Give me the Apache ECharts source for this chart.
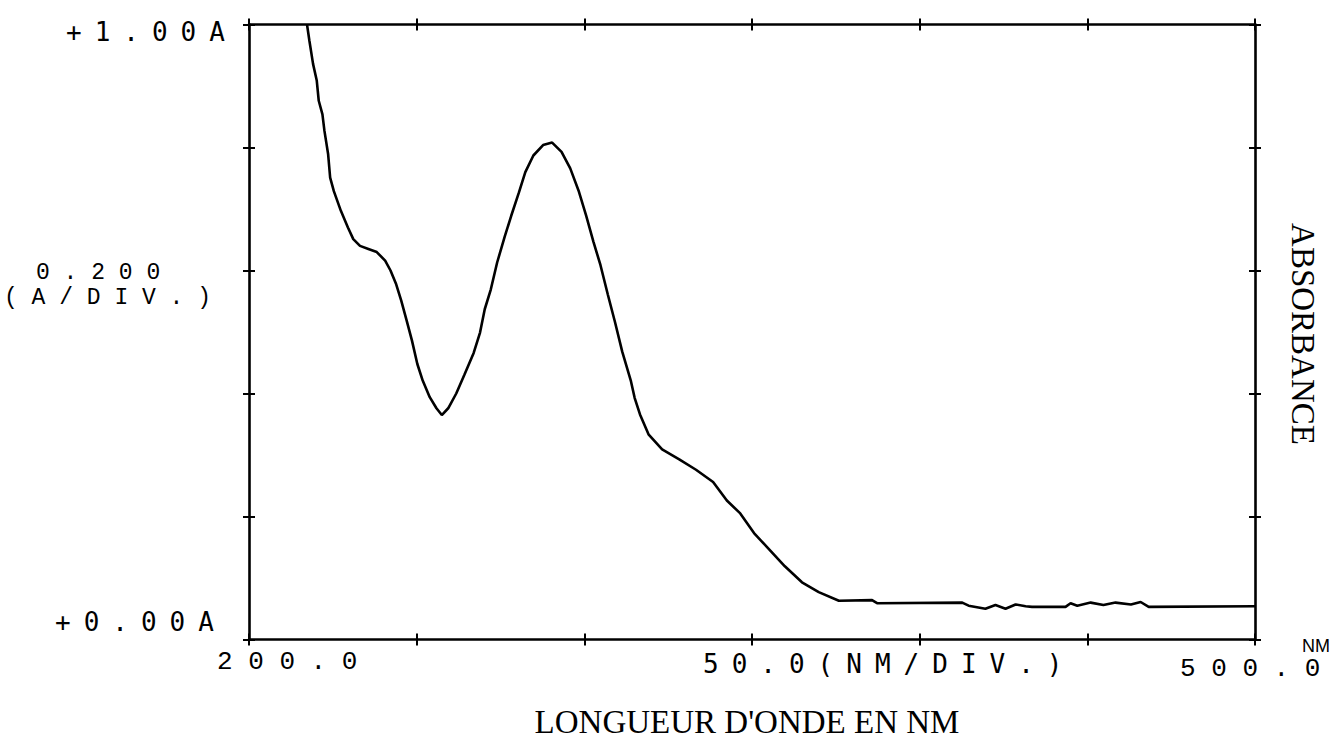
<!DOCTYPE html>
<html>
<head>
<meta charset="utf-8">
<script src="https://cdn.jsdelivr.net/npm/echarts@6/dist/echarts.min.js"></script>
<style>
  html, body { margin: 0; padding: 0; background: #fff; }
  #chart { width: 1339px; height: 745px; }
  /* wide plotter-style spacing for the instrument annotations */
  #chart text[style*="DejaVu Sans Mono"] { letter-spacing: 13px; }
  #chart text[style*="Liberation Mono"] { letter-spacing: 0.6em; }
</style>
</head>
<body>
<div id="chart"></div>
<script>
// UV absorption spectrum, wavelength in nm
const wavelengths = [
  217.3, 218.0, 219.1, 220.2, 220.8, 221.9, 222.5, 223.6, 224.2, 225.3,
  227.4, 229.5, 231.1, 233.1, 235.6, 238.1, 240.6, 242.2, 243.8, 245.4,
  247.0, 248.6, 250.2, 251.8, 253.9, 255.9, 257.5, 259.4, 261.8, 264.2,
  267.0, 268.9, 270.3, 272.1, 274.0, 276.3, 278.2, 280.5, 282.4, 284.8,
  287.7, 290.4, 293.2, 295.8, 298.4, 300.5, 302.7, 304.8, 307.0, 309.1,
  311.3, 313.9, 315.0, 316.6, 319.2, 323.2, 328.3, 333.3, 338.4, 342.5,
  346.5, 350.6, 354.7, 359.8, 364.9, 369.9, 375.9, 385.8, 387.3, 412.7,
  414.6, 419.6, 422.6, 425.6, 428.6, 431.6, 433.5, 443.5, 445.0, 447.0,
  451.0, 454.8, 458.4, 463.0, 465.9, 468.3, 500.0
];
// absorbance (A) at each wavelength
const absorbance = [
  1.000, 0.974, 0.936, 0.909, 0.876, 0.854, 0.827, 0.789, 0.751, 0.729,
  0.697, 0.670, 0.651, 0.640, 0.635, 0.630, 0.616, 0.600, 0.579, 0.551,
  0.519, 0.486, 0.448, 0.421, 0.394, 0.376, 0.365, 0.376, 0.400, 0.430,
  0.466, 0.499, 0.537, 0.569, 0.613, 0.656, 0.689, 0.727, 0.760, 0.787,
  0.804, 0.808, 0.793, 0.766, 0.728, 0.690, 0.647, 0.609, 0.561, 0.517,
  0.468, 0.420, 0.393, 0.366, 0.333, 0.309, 0.293, 0.276, 0.256, 0.226,
  0.205, 0.173, 0.149, 0.119, 0.093, 0.077, 0.063, 0.064, 0.059, 0.060,
  0.055, 0.050, 0.056, 0.050, 0.057, 0.054, 0.053, 0.053, 0.059, 0.055,
  0.060, 0.056, 0.060, 0.057, 0.061, 0.053, 0.054
];

// axis scales
const xMin = 200, xMax = 500, xStep = 50;
const yMin = 0, yMax = 1, yStep = 0.2;

// annotation texts
const yTopLabel = '+1.00A';
const yBottomLabel = '+0.00A';
const yScaleLabel = '0.200';
const yScaleUnit = '(A/DIV.)';
const xStartLabel = '200.0';
const xEndLabel = '500.0';
const xScaleLabel = '50.0(NM/DIV.)';
const xUnitLabel = 'NM';
const xTitle = "LONGUEUR D'ONDE EN NM";
const yTitle = 'ABSORBANCE';

const INK = '#000';
const MONO_L = '26px "DejaVu Sans Mono"';
const MONO_W = '26px "Liberation Mono"';
const MONO_S = '23px "Liberation Mono"';
const SERIF = '"Liberation Serif"';

function xAxisDef(position, inside, showLine) {
  return {
    type: 'value', gridIndex: 0, position: position,
    min: xMin, max: xMax, interval: xStep,
    axisLine: { show: showLine, onZero: false, lineStyle: { color: INK, width: 2.6 } },
    axisTick: { show: true, inside: inside, length: 6, lineStyle: { color: INK, width: 2 } },
    axisLabel: { show: false }, splitLine: { show: false }
  };
}
function yAxisDef(position, inside, showLine) {
  return {
    type: 'value', gridIndex: 0, position: position,
    min: yMin, max: yMax, interval: yStep,
    axisLine: { show: showLine, onZero: false, lineStyle: { color: INK, width: 2.6 } },
    axisTick: { show: true, inside: inside, length: 6, lineStyle: { color: INK, width: 2 } },
    axisLabel: { show: false }, splitLine: { show: false }
  };
}

function monoText(text, x, y, font) {
  return {
    type: 'text', x: x, y: y, silent: true,
    style: { text: text, font: font, fill: INK, textAlign: 'left', textVerticalAlign: 'middle' }
  };
}

const chart = echarts.init(document.getElementById('chart'), null, { renderer: 'svg' });

chart.setOption({
  animation: false,
  backgroundColor: '#fff',
  grid: { left: 249, top: 24.5, width: 1006, height: 615, containLabel: false },
  xAxis: [
    xAxisDef('bottom', true, true),
    xAxisDef('top', true, true),
    xAxisDef('bottom', false, false),
    xAxisDef('top', false, false)
  ],
  yAxis: [
    yAxisDef('left', true, true),
    yAxisDef('right', true, true),
    yAxisDef('left', false, false),
    yAxisDef('right', false, false)
  ],
  series: [{
    type: 'line',
    xAxisIndex: 0, yAxisIndex: 0,
    data: wavelengths.map((w, i) => [w, absorbance[i]]),
    showSymbol: false,
    smooth: false,
    clip: true,
    lineStyle: { color: INK, width: 2.6 }
  }],
  graphic: [
    monoText(yTopLabel, 66, 32, MONO_L),
    monoText(yScaleLabel, 36, 273, MONO_S),
    monoText(yScaleUnit, 4, 298, MONO_S),
    monoText(yBottomLabel, 55, 622, MONO_L),
    monoText(xStartLabel, 217, 662, MONO_W),
    monoText(xScaleLabel, 703, 664, MONO_L),
    monoText(xEndLabel, 1180, 669, MONO_W),
    {
      type: 'text', x: 1302, y: 646, silent: true,
      style: { text: xUnitLabel, font: '18px "Liberation Sans"', fill: INK, textAlign: 'left', textVerticalAlign: 'middle' }
    },
    {
      type: 'text', x: 747, y: 722, silent: true,
      style: { text: xTitle, font: '33px ' + SERIF, fill: INK, textAlign: 'center', textVerticalAlign: 'middle' }
    },
    {
      type: 'text', x: 1303, y: 334, rotation: -Math.PI / 2, silent: true,
      style: { text: yTitle, font: '33px ' + SERIF, fill: INK, textAlign: 'center', textVerticalAlign: 'middle' }
    }
  ]
});
</script>
</body>
</html>
